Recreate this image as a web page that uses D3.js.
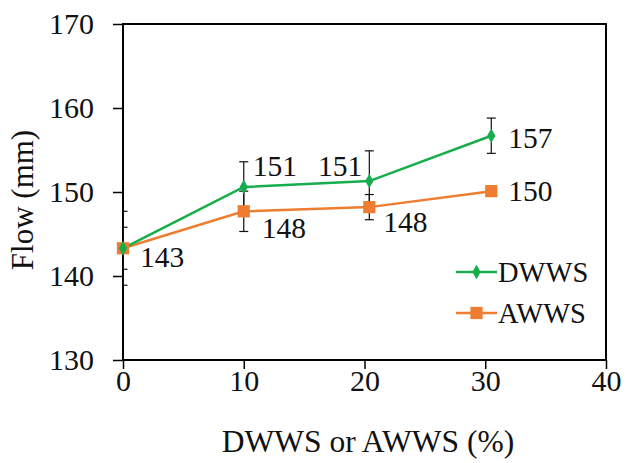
<!DOCTYPE html>
<html>
<head>
<meta charset="utf-8">
<script src="https://cdn.jsdelivr.net/npm/d3@7"></script>
<style>
  body { margin: 0; background: #fff; }
  text { font-family: "Liberation Serif", "Times New Roman", serif; fill: #111; }
</style>
</head>
<body>
<svg id="chart" width="632" height="463"></svg>
<script>
// data
var xs = [0, 10, 20.4, 30.5];
var dwws = [143.3, 150.6, 151.3, 156.7];
var dwwsErr = [4.4, 3.0, 3.6, 2.1];
var awws = [143.3, 147.7, 148.2, 150.1];
var awwsErr = [2.5, 2.4, 1.5, 0.3];
var xTicks = [0, 10, 20, 30, 40];
var yTicks = [130, 140, 150, 160, 170];

var green = "#16ad4c", orange = "#ee7d31";

var svg = d3.select("#chart");
var mLeft = 123, mRight = 606, mTop = 24, mBottom = 360;

var x = d3.scaleLinear().domain([0, 40]).range([mLeft, mRight]);
var y = d3.scaleLinear().domain([130, 170]).range([mBottom, mTop]);

svg.append("clipPath").attr("id", "plotclip")
  .append("rect").attr("x", mLeft).attr("y", mTop)
  .attr("width", mRight - mLeft).attr("height", mBottom - mTop);

// frame
svg.append("rect")
  .attr("x", mLeft).attr("y", mTop)
  .attr("width", mRight - mLeft).attr("height", mBottom - mTop)
  .attr("fill", "none").attr("stroke", "#000").attr("stroke-width", 2);

var yAxis = svg.append("g")
  .attr("transform", "translate(" + mLeft + ",0)")
  .call(d3.axisLeft(y).tickValues(yTicks).tickSize(10).tickPadding(19));
var xAxis = svg.append("g")
  .attr("transform", "translate(0," + mBottom + ")")
  .call(d3.axisBottom(x).tickValues(xTicks).tickSize(9).tickPadding(1));
[yAxis, xAxis].forEach(function (a) {
  a.select(".domain").remove();
  a.selectAll("line").attr("stroke", "#000").attr("stroke-width", 1.5);
  a.selectAll("text").style("font-size", "30px").style("font-family", "Liberation Serif, serif").attr("fill", "#111");
});

svg.append("text")
  .attr("transform", "translate(22," + ((mTop + mBottom) / 2 + 8) + ") rotate(-90)")
  .attr("text-anchor", "middle").attr("dominant-baseline", "central")
  .style("font-size", "31px").text("Flow (mm)");
svg.append("text")
  .attr("x", 368).attr("y", 441)
  .attr("text-anchor", "middle").attr("dominant-baseline", "central")
  .style("font-size", "31.5px").text("DWWS or AWWS (%)");

// error bars
function errBars(vals, errs) {
  var g = svg.append("g").attr("stroke", "#111").attr("stroke-width", 1.2)
    .attr("clip-path", "url(#plotclip)");
  vals.forEach(function (v, i) {
    var cx = x(xs[i]);
    g.append("line").attr("x1", cx).attr("x2", cx).attr("y1", y(v - errs[i])).attr("y2", y(v + errs[i]));
    [v - errs[i], v + errs[i]].forEach(function (e) {
      g.append("line").attr("x1", cx - 4.5).attr("x2", cx + 4.5).attr("y1", y(e)).attr("y2", y(e));
    });
  });
}
errBars(dwws, dwwsErr);
errBars(awws, awwsErr);

var line = d3.line().x(function (d, i) { return x(xs[i]); }).y(function (d) { return y(d); });

svg.append("path").datum(awws).attr("d", line)
  .attr("fill", "none").attr("stroke", orange).attr("stroke-width", 2.5);
svg.append("path").datum(dwws).attr("d", line)
  .attr("fill", "none").attr("stroke", green).attr("stroke-width", 2.5);

var square = d3.symbol().type(d3.symbolSquare).size(150);
var diamond = d3.symbol().type(d3.symbolDiamond).size(60);

svg.selectAll(".sq").data(awws).enter().append("path")
  .attr("transform", function (d, i) { return "translate(" + x(xs[i]) + "," + y(d) + ")"; })
  .attr("d", square).attr("fill", orange);
svg.selectAll(".dm").data(dwws).enter().append("path")
  .attr("transform", function (d, i) { return "translate(" + x(xs[i]) + "," + y(d) + ")"; })
  .attr("d", diamond).attr("fill", green);

// value labels
var dwwsLab = [null, [9, -21, "start"], [-7, -15, "end"], [17, 2, "start"]];
var awwsLab = [[17, 9, "start"], [18, 17, "start"], [14, 15, "start"], [17, 0, "start"]];
function labels(vals, pos) {
  vals.forEach(function (v, i) {
    if (!pos[i]) return;
    svg.append("text")
      .attr("x", x(xs[i]) + pos[i][0]).attr("y", y(v) + pos[i][1])
      .attr("text-anchor", pos[i][2]).attr("dominant-baseline", "central")
      .style("font-size", "29.5px").text(Math.round(v));
  });
}
labels(dwws, dwwsLab);
labels(awws, awwsLab);

// legend
var legend = [["DWWS", green, diamond, 272], ["AWWS", orange, square, 313]];
legend.forEach(function (l) {
  var g = svg.append("g");
  g.append("line").attr("x1", 456).attr("x2", 497).attr("y1", l[3]).attr("y2", l[3])
    .attr("stroke", l[1]).attr("stroke-width", 2.5);
  g.append("path").attr("transform", "translate(476.5," + l[3] + ")").attr("d", l[2]).attr("fill", l[1]);
  g.append("text").attr("x", 498).attr("y", l[3]).attr("dominant-baseline", "central")
    .style("font-size", "28.5px").text(l[0]);
});
</script>
</body>
</html>
